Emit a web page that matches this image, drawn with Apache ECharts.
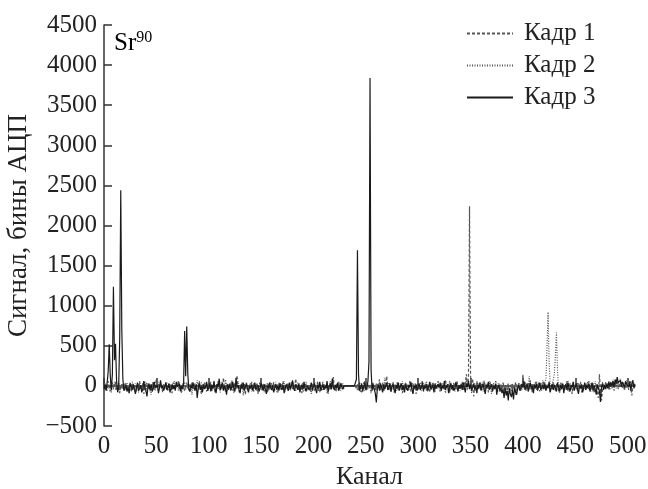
<!DOCTYPE html>
<html>
<head>
<meta charset="utf-8">
<script src="https://cdn.jsdelivr.net/npm/echarts@6/dist/echarts.min.js"></script>
<style>
  html, body { margin: 0; padding: 0; background: #fff; }
  #chart { width: 648px; height: 489px; }
</style>
</head>
<body>
<div id="chart"></div>
<script>
// номера каналов = индекс в массиве (0..507)
var xTicks = [0, 50, 100, 150, 200, 250, 300, 350, 400, 450, 500];
var seriesNames = ['Кадр 1', 'Кадр 2', 'Кадр 3'];

// Кадр 1 (штрих)
var frame1 = [
  20, -50, 10, -30, 60, -20, -70, 0, 40, -40, -10, 50, -60, -20, 30, -90, 10, -30, 20, -50,
  40, -20, -60, 10, -30, 50, -80, -10, 30, -40, 0, -70, 20, -20, 60, -50, -10, 30, -100, 0,
  -20, 40, -40, 10, -70, 20, -30, 60, -50, -10, 90, -20, -60, 30, -30, 0, -80, 20, -40, 50,
  -10, -60, 30, -30, 10, -90, 40, -20, -50, 20, -10, 70, -40, 0, -70, 30, -20, -60, 10, 40,
  -30, 20, -80, 0, 50, -40, -10, 30, -60, 10, -20, 60, -50, -100, 20, -30, 40, -10, -70, 30,
  -40, 0, 50, -60, -20, 30, -90, 10, -30, 60, -10, -50, 20, -40, 100, -20, -70, 30, 0, -50,
  20, -30, 70, -60, -10, 40, -40, 130, -20, -80, 10, -30, 50, -50, 0, -110, 30, -20, -60, 20,
  -40, 50, -10, -70, 20, -30, 40, -100, 0, -20, 60, -60, 10, -40, 30, -10, -90, 20, -50, 40,
  0, -30, 50, -60, 10, -20, -80, 40, -40, 20, -10, 60, -50, 0, -30, 30, -70, 10, -20, 50,
  -40, 20, -60, 90, -10, -50, 30, -30, 0, -90, 40, -20, -60, 10, 30, -40, 0, -70, 20, -10,
  40, -60, 10, -30, 60, -40, -80, 20, -20, 50, -50, 0, -30, 30, -100, 10, -40, 40, -20, 110,
  -30, -60, 20, -10, 50, -50, 0, 30, -40, -20, 0, 0, 0, 0, 0, 0, 0, 0, 0, 0,
  0, -30, 20, -60, 40, -10, -80, 20, -40, 60, -20, -50, 30, 10, -30, -70, 40, -20, 0, -60,
  30, -40, 10, 80, -50, -20, 40, -70, 0, 20, 120, -30, -60, 30, -10, -40, 50, -80, 10, -20,
  40, -60, 0, 30, -40, -90, 20, -20, 50, -50, 10, -30, 60, -70, -10, 30, -40, 20, -100, 0,
  30, -50, 10, -20, 70, -40, -10, 40, -60, 0, 20, -80, 30, -30, 50, -20, -60, 10, -40, 60,
  -10, -70, 30, -30, 10, -50, 80, -20, -40, 20, -90, 40, -10, -60, 30, 0, -40, 60, -20, -50,
  20, -30, 50, -60, 0, 30, 145, -20, 100, 2240, 120, -40, 90, -130, 20, -30, 60, -50, -10, 40,
  -60, 20, -30, 70, -40, -10, 30, -80, 0, 50, -20, -60, 20, -40, 60, -10, -70, 30, -30, 10,
  -50, 40, -20, -80, 10, -40, 30, -100, -20, 20, -60, 0, -30, 50, -70, -10, 30, -40, 20, -50,
  140, -20, 40, -60, 0, 30, -40, 70, -20, -80, 20, -30, 50, -50, -10, 40, -70, 0, 30, -40,
  60, -20, -60, 20, -30, 40, -80, 10, -40, 50, -10, -60, 30, -20, 0, -90, 40, -30, 20, -50,
  10, -40, 60, -70, 0, 30, -30, -100, 20, -50, 40, -10, -60, 30, -20, 50, -80, 10, -40, 20,
  -60, 30, -20, 60, -50, 0, -30, 40, -90, -10, 20, -70, -150, 145, -40, -180, -60, 20, -30, 50,
  -20, 30, -50, 10, 60, -30, 20, -60, 40, 0, 70, -40, 30, -10, 50, -30, 20, -60, 40, -20,
  30, -50, 60, -30, -120, 20, -10, 40
];

// Кадр 2 (пунктир)
var frame2 = [
  -30, 30, -10, -60, 20, -40, 40, -80, 10, -20, 50, -50, 0, -30, 60, -70, -10, 30, -40, 20,
  -60, 10, 40, -30, -90, 20, -20, 50, -50, 0, 30, -40, 10, -80, 40, -20, -50, 20, -30, 60,
  -70, 0, 30, -40, 10, -110, 20, -20, 40, -60, 10, -30, 50, -40, -10, 30, -70, 20, -20, 0,
  40, -50, -10, 30, -80, 20, -30, 60, -40, -10, 20, -60, 40, -20, -90, 10, -30, 50, -50, 0,
  30, -60, 20, -20, -110, 40, -40, 10, -30, 70, -50, 0, -20, 40, -70, 10, -40, 30, -10, -60,
  50, -30, -70, 20, -10, 40, -60, 0, 30, -40, 20, -80, 50, -20, 10, -50, 80, -30, -60, 20,
  -20, 40, -50, 10, -90, 30, -30, -10, 60, -60, 20, -40, 0, -120, 30, -20, 50, -50, 10, -30,
  40, -70, 0, 30, -40, 20, -60, 10, -20, 50, -50, -10, 30, -80, 20, -30, 40, -60, 0, -20,
  30, -60, 10, -30, 50, -90, 20, -20, 40, -50, 0, -30, 60, -70, 10, -40, 30, -10, -60, 20,
  -30, 50, -20, -70, 10, 40, -50, 0, -30, 30, -80, 20, -20, 50, -60, 10, -40, 30, -100, 20,
  -20, 50, -50, 10, -30, -70, 40, -20, 0, -60, 30, -40, 20, -90, 10, -30, 60, -50, 0, 30,
  -40, 20, -70, 10, -20, 40, -60, 0, 30, -30, 0, 0, 0, 0, 0, 0, 0, 0, 0, 0,
  0, 20, -50, 30, -30, -80, 10, -20, 50, -60, 0, 30, -40, -10, 20, -90, -30, 40, -20, 10,
  -60, 30, -20, 50, -40, -10, 20, -70, 100, -30, 10, -50, 40, -20, -80, 30, 0, -40, 20, -60,
  50, -20, -50, 10, -30, 60, -70, 0, 30, -40, 20, -60, 10, -20, 40, -90, 0, 30, -30, 20,
  -50, 10, 40, -60, -20, 30, -40, 0, 60, -70, 10, -30, 40, -50, -10, 20, -80, 30, -20, 50,
  -40, 10, -60, 30, -20, 40, -90, 0, 20, -30, 60, -50, 10, -20, 40, -70, 0, 30, -40, 20,
  -60, 30, -10, -40, 50, -20, 100, -50, 60, -30, 40, -90, 10, -20, 30, -60, 0, 40, -40, 10,
  -20, 50, -70, 0, 30, -40, 20, -60, 60, -20, -100, 10, 40, -30, 0, -60, 30, -10, -80, 20,
  -40, 30, -60, 10, -20, -90, 20, -50, 0, -70, 30, -30, 10, -110, 20, -40, 40, -20, -60, 30,
  20, -30, 50, -60, 10, -20, 120, -40, 0, 30, -70, 20, -20, 60, -50, 10, -30, 40, -60, 70,
  -20, 40, 100, 500, 920, 300, 20, -40, 30, 80, 150, 380, 665, 200, -30, 20, -60, 40, -20, 10,
  -50, 30, -30, 70, -70, 0, 20, -40, 50, -60, 10, -20, 40, -80, 0, 30, -40, 20, -60, 40,
  -30, 10, 50, -50, -20, 40, -70, 10, -30, 60, -40, 0, 20, -60, -90, -20, 50, -40, 10, -30,
  40, -20, 60, -50, 20, -10, 80, 0, 40, -30, 60, 20, -20, 90, 30, -10, 50, -40, 30, 70,
  -20, 40, 10, 60, -40, 30, 50, -10
];

// Кадр 3 (сплошная)
var frame3 = [
  -40, 20, -60, 40, 180, 520, 120, -50, 150, 1235, 320, 525, 60, -80, -20, 600, 2440, 700, 90, -60,
  -30, 10, -70, -20, -90, 30, -10, -50, 20, -40, -100, -20, 40, -60, -30, 10, -80, -40, 60, -20,
  -60, -130, -10, 30, -50, 20, -70, -30, 50, -20, -40, 10, -90, -20, 70, -30, 0, -60, -10, 40,
  -50, -20, 30, -80, -30, 20, -40, 10, -60, 50, -10, -30, 30, -70, 0, -40, 20, 685, 120, 740,
  150, -40, -70, 10, -30, 40, -20, -60, 20, -150, -30, 30, -50, 0, -80, 20, -40, -10, 50, -60,
  -20, 30, -70, 10, -40, 60, -30, -90, 20, -10, 90, -50, -20, 40, -60, 0, -30, -110, 20, -40,
  30, -60, -10, 50, -30, -70, 100, -20, 10, -50, -90, 20, -30, 40, -60, -10, 30, -40, -80, 0,
  -30, 20, -60, -10, 40, -50, -20, 10, -70, -30, 30, -10, -60, 20, -40, -100, 0, -30, 40, -20,
  -50, 10, -80, -30, 20, -40, 0, -60, 30, -20, -50, 10, -90, -30, 20, -10, -60, 40, -40, 0,
  70, -30, -60, 20, -10, -50, 30, -80, -20, 10, -40, 50, -30, -70, 0, 20, -50, -20, 40, -60,
  -10, 30, -40, -90, 10, -30, 50, -60, -20, 20, -50, 0, -30, 60, -70, -10, 30, -40, 90, -20,
  -50, 10, -30, 40, -60, -20, 30, -10, -40, 0, 0, 0, 0, 0, 0, 0, 0, 0, 0, 0,
  0, 80, 1690, 150, -60, -20, 30, -70, -10, 40, -50, -20, 60, 300, 3840, 200, -60, 20, -40, -90,
  -205, -30, 10, -60, 30, -20, -80, 20, -40, 0, 40, -50, -20, 30, -70, -10, 20, -40, -90, 10,
  -30, 40, -60, -10, 30, -50, 0, -80, 20, -30, -60, 10, -20, 50, -40, -100, 0, -30, 20, -60,
  -10, 30, -50, -20, 40, -70, 0, -30, 20, -60, -10, 50, -40, -20, 10, -80, 30, -30, -50, 20,
  -20, 40, -60, 0, -30, 60, -50, -10, 20, -90, -20, 30, -40, 10, -60, -30, 50, -20, -70, 10,
  -30, 20, -50, 40, -20, -80, 30, -10, 60, -40, 20, -60, -20, 30, -50, 0, -90, 20, -30, 40,
  -60, -10, 30, -40, -100, 10, -20, 50, -50, -30, 20, -70, 0, -40, 30, -110, -20, 10, -60, -30,
  -90, -40, -150, -20, -120, -60, -180, -30, -100, -140, -50, -170, -20, -80, -110, -30, 10, -60, -40, 20,
  -20, 60, -50, -10, 30, -70, -20, 40, -40, 0, -90, 20, -30, 30, -60, -10, 40, -50, -20, 10,
  -40, 30, -60, 0, -30, 50, -80, -20, 20, -50, 10, -30, -70, 40, -20, -60, 10, -40, 30, -90,
  -10, 20, -50, 40, -30, -70, 10, -20, 50, -60, -10, 30, -40, -100, 0, -30, 20, -80, -20, 40,
  -50, 10, -30, 30, -70, -20, 40, -60, 0, -40, -110, 20, -30, -60, -200, -20, 30, -50, 10, -40,
  20, -30, 50, -10, 40, 0, 60, -20, 80, 30, 110, 40, 20, 70, -10, 50, 30, -20, 60, 20,
  40, -10, 50, -60, 30, 70, -30, 20
];

function toPairs(arr) {
    return arr.map(function (v, i) { return [i, v]; });
}

var myChart = echarts.init(document.getElementById('chart'));
var serif = '"Liberation Serif", "DejaVu Serif", serif';

var option = {
    animation: false,
    backgroundColor: '#fff',
    grid: {
        left: 104,
        right: 13,
        top: 25,
        bottom: 63,
        outerBoundsMode: 'none'
    },
    legend: {
        orient: 'vertical',
        left: 466,
        top: 21,
        padding: 0,
        itemWidth: 46,
        itemHeight: 12,
        itemGap: 7,
        itemStyle: { opacity: 0 },
        textStyle: {
            fontFamily: serif,
            fontSize: 25,
            color: '#222',
            padding: [0, 0, 0, 6]
        },
        data: seriesNames
    },
    graphic: [
        {
            type: 'text',
            left: 114,
            top: 30,
            style: {
                text: '{a|Sr}{b|90}',
                rich: {
                    a: { fontFamily: serif, fontSize: 25, color: '#222', lineHeight: 26, verticalAlign: 'bottom' },
                    b: { fontFamily: serif, fontSize: 16, color: '#222', verticalAlign: 'top', lineHeight: 26 }
                }
            }
        }
    ],
    xAxis: {
        type: 'value',
        min: 0,
        max: 507,
        name: 'Канал',
        nameLocation: 'middle',
        nameGap: 37,
        nameTextStyle: { fontFamily: serif, fontSize: 26, color: '#222' },
        axisLine: { lineStyle: { color: '#333', width: 1.5 } },
        axisTick: {
            inside: true,
            length: 8,
            customValues: xTicks,
            lineStyle: { color: '#333', width: 1.5 }
        },
        axisLabel: {
            customValues: xTicks,
            margin: 8,
            fontFamily: serif,
            fontSize: 25,
            color: '#222'
        },
        splitLine: { show: false }
    },
    yAxis: {
        type: 'value',
        min: -500,
        max: 4500,
        interval: 500,
        name: 'Сигнал, бины АЦП',
        nameLocation: 'middle',
        nameGap: 72,
        nameTextStyle: { fontFamily: serif, fontSize: 27, color: '#222' },
        axisLine: { show: true, lineStyle: { color: '#333', width: 1.5 } },
        axisTick: {
            show: true,
            inside: true,
            length: 8,
            lineStyle: { color: '#333', width: 1.5 }
        },
        axisLabel: {
            margin: 7,
            fontFamily: serif,
            fontSize: 25,
            color: '#222',
            formatter: function (v) { return v < 0 ? '\u2212' + (-v) : String(v); }
        },
        splitLine: { show: false }
    },
    series: [
        {
            name: seriesNames[0],
            type: 'line',
            data: toPairs(frame1),
            showSymbol: false,
            symbol: 'none',
            lineStyle: { color: '#555', width: 1.2, type: [3, 2] },
            itemStyle: { color: '#555' }
        },
        {
            name: seriesNames[1],
            type: 'line',
            data: toPairs(frame2),
            showSymbol: false,
            symbol: 'none',
            lineStyle: { color: '#555', width: 1.2, type: [1, 1.5] },
            itemStyle: { color: '#555' }
        },
        {
            name: seriesNames[2],
            type: 'line',
            data: toPairs(frame3),
            showSymbol: false,
            symbol: 'none',
            lineStyle: { color: '#1a1a1a', width: 1.2 },
            itemStyle: { color: '#1a1a1a' }
        }
    ]
};

myChart.setOption(option);
</script>
</body>
</html>
